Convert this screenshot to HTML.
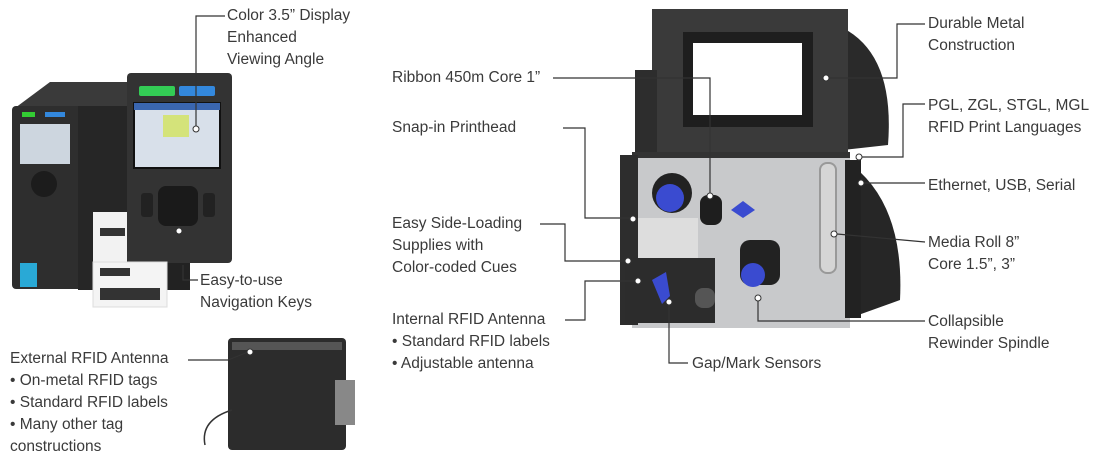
<!DOCTYPE html>
<html><head><meta charset="utf-8"><style>
body{margin:0;width:1110px;height:461px;background:#fff;position:relative;overflow:hidden;font-family:"Liberation Sans",sans-serif;color:#3a3a3a;font-size:15.5px}
.t{position:absolute;line-height:22px;white-space:nowrap}
svg{position:absolute;left:0;top:0}
</style></head><body>
<svg width="1110" height="461">
<!-- left printer -->
<path d="M15 108 L50 82 L130 82 L130 108 Z" fill="#3a3a3a"/>
<rect x="12" y="106" width="70" height="183" rx="4" fill="#2e2e2e"/>
<rect x="78" y="106" width="52" height="184" fill="#262626"/>
<rect x="20" y="124" width="50" height="40" fill="#cdd6df"/>
<rect x="22" y="112" width="13" height="5" fill="#3c3"/><rect x="45" y="112" width="20" height="5" fill="#38d"/>
<circle cx="44" cy="184" r="13" fill="#1c1c1c"/>
<rect x="20" y="263" width="17" height="24" fill="#29a9d6"/>
<rect x="160" y="255" width="30" height="35" fill="#222"/>
<rect x="127" y="73" width="105" height="190" rx="4" fill="#333"/>
<rect x="139" y="86" width="36" height="10" rx="2" fill="#3c5"/><rect x="179" y="86" width="36" height="10" rx="2" fill="#38d"/>
<rect x="134" y="103" width="86" height="65" fill="#d8e0ea" stroke="#111" stroke-width="2"/>
<rect x="134" y="103" width="86" height="7" fill="#3a66b0"/>
<rect x="163" y="115" width="26" height="22" fill="#d4e37a"/>
<rect x="158" y="186" width="40" height="40" rx="8" fill="#1a1a1a"/>
<rect x="141" y="193" width="12" height="24" rx="3" fill="#222"/><rect x="203" y="193" width="12" height="24" rx="3" fill="#222"/>
<rect x="93" y="212" width="34" height="50" fill="#f2f2f2"/>
<rect x="93" y="262" width="74" height="45" fill="#f4f4f4" stroke="#ddd"/>
<g fill="#333"><rect x="100" y="228" width="25" height="8"/><rect x="100" y="268" width="30" height="8"/><rect x="100" y="288" width="60" height="12"/></g>
<!-- antenna -->
<rect x="228" y="338" width="118" height="112" rx="4" fill="#2c2c2c"/>
<rect x="232" y="342" width="110" height="8" fill="#555"/>
<rect x="335" y="380" width="20" height="45" fill="#888"/>
<path d="M232 410 Q200 420 205 445" stroke="#333" fill="none" stroke-width="1.5"/>
<!-- main printer -->
<path d="M843 28 Q895 55 888 145 L843 150 Z" fill="#2a2a2a"/>
<rect x="652" y="9" width="196" height="143" fill="#3a3a3a"/>
<rect x="683" y="32" width="130" height="95" fill="#1e1e1e"/>
<rect x="693" y="43" width="109" height="72" fill="#fff"/>
<rect x="635" y="70" width="22" height="82" fill="#2d2d2d"/>
<path d="M845 160 Q905 200 900 300 L850 318 Z" fill="#262626"/>
<rect x="632" y="152" width="218" height="176" fill="#c8c9cb"/>
<rect x="632" y="152" width="218" height="6" fill="#333"/>
<rect x="620" y="155" width="18" height="170" fill="#2d2d2d"/>
<rect x="845" y="160" width="16" height="158" fill="#222"/>
<circle cx="672" cy="193" r="20" fill="#222"/><circle cx="670" cy="198" r="14" fill="#3a4bd0"/>
<rect x="700" y="195" width="22" height="30" rx="8" fill="#1e1e1e"/>
<path d="M731 210 l12 -9 l12 9 l-12 8z" fill="#3a4bd0"/>
<rect x="740" y="240" width="40" height="45" rx="10" fill="#222"/><circle cx="753" cy="275" r="12" fill="#3a4bd0"/>
<rect x="820" y="163" width="16" height="110" rx="7" fill="#d5d5d5" stroke="#999" stroke-width="2"/>
<rect x="638" y="218" width="60" height="40" fill="#ddd"/>
<rect x="625" y="258" width="90" height="65" fill="#2c2c2c"/>
<path d="M652 280 l14 -8 l4 24 l-8 8z" fill="#3a4bd0"/>
<rect x="695" y="288" width="20" height="20" rx="8" fill="#555"/>
<g stroke="#333" stroke-width="1.2" fill="none">
<polyline points="225,16 196,16 196,126"/>
<polyline points="198,280 183,280 183,265"/>
<polyline points="188,360 228,360 248,352"/>
<polyline points="553,78 710,78 710,193"/>
<polyline points="563,128 585,128 585,218 631,218"/>
<polyline points="540,224 565,224 565,261 628,261"/>
<polyline points="565,320 585,320 585,281 636,281"/>
<polyline points="688,363 669,363 669,305"/>
<polyline points="925,24 897,24 897,78 829,78"/>
<polyline points="925,104 903,104 903,157 862,157"/>
<polyline points="925,183 864,183"/>
<polyline points="925,242 837,234"/>
<polyline points="925,321 758,321 758,301"/>
</g>
<g fill="#fff" stroke="#333"><circle cx="196" cy="129" r="3"/><circle cx="179" cy="231" r="3"/><circle cx="710" cy="196" r="3"/><circle cx="826" cy="78" r="3"/><circle cx="859" cy="157" r="3"/><circle cx="861" cy="183" r="3"/><circle cx="834" cy="234" r="3"/><circle cx="758" cy="298" r="3"/><circle cx="669" cy="302" r="3"/><circle cx="633" cy="219" r="3"/><circle cx="628" cy="261" r="3"/><circle cx="638" cy="281" r="3"/><circle cx="250" cy="352" r="3"/></g>
</svg>
<div class="t" style="left:227px;top:5px">Color 3.5” Display<br>Enhanced<br>Viewing Angle</div>
<div class="t" style="left:200px;top:270px">Easy-to-use<br>Navigation Keys</div>
<div class="t" style="left:10px;top:348px">External RFID Antenna<br>• On-metal RFID tags<br>• Standard RFID labels<br>• Many other tag<br>constructions</div>
<div class="t" style="left:392px;top:67px">Ribbon 450m Core 1”</div>
<div class="t" style="left:392px;top:117px">Snap-in Printhead</div>
<div class="t" style="left:392px;top:213px">Easy Side-Loading<br>Supplies with<br>Color-coded Cues</div>
<div class="t" style="left:392px;top:309px">Internal RFID Antenna<br>• Standard RFID labels<br>• Adjustable antenna</div>
<div class="t" style="left:692px;top:353px">Gap/Mark Sensors</div>
<div class="t" style="left:928px;top:13px">Durable Metal<br>Construction</div>
<div class="t" style="left:928px;top:95px">PGL, ZGL, STGL, MGL<br>RFID Print Languages</div>
<div class="t" style="left:928px;top:175px">Ethernet, USB, Serial</div>
<div class="t" style="left:928px;top:232px">Media Roll 8”<br>Core 1.5”, 3”</div>
<div class="t" style="left:928px;top:311px">Collapsible<br>Rewinder Spindle</div>
</body></html>
